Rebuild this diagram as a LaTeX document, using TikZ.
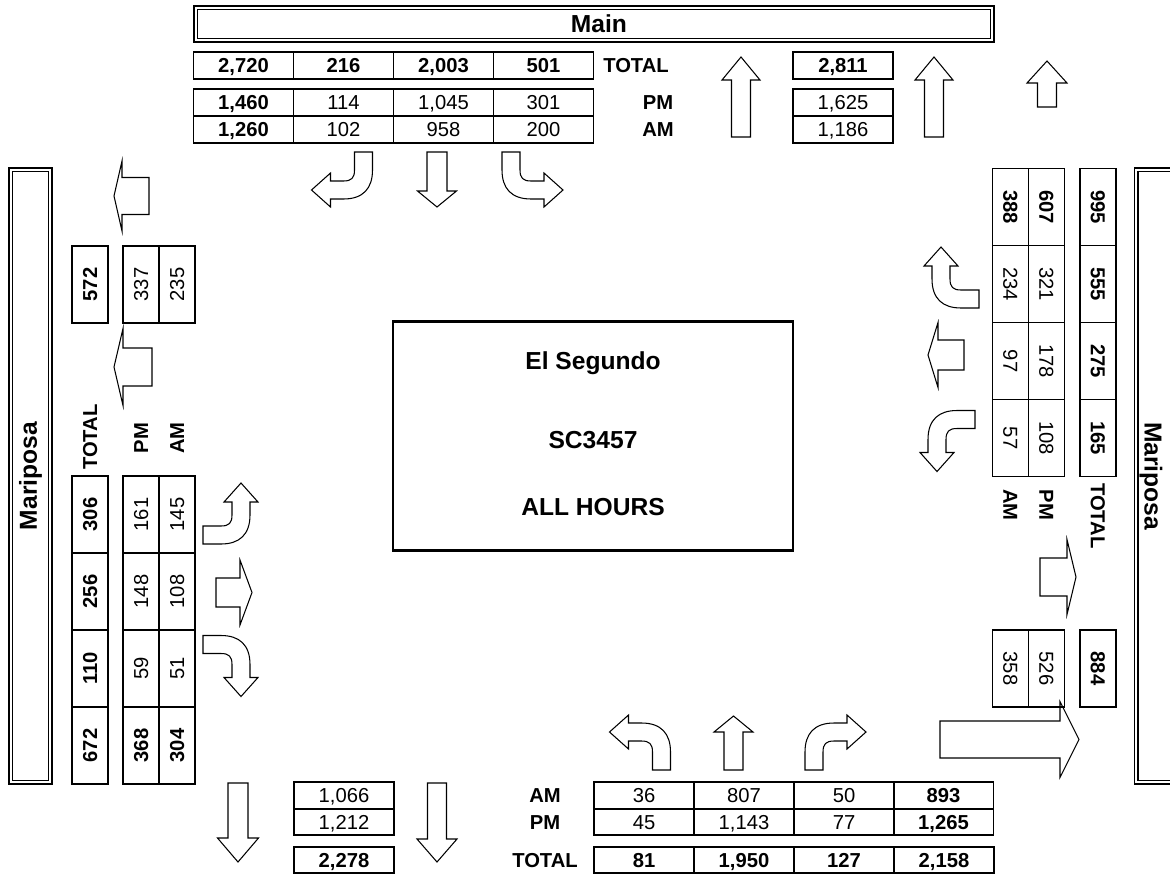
\documentclass[tikz,border=0pt]{standalone}
\usepackage{fontspec}
\setmainfont{Liberation Sans}
\usetikzlibrary{positioning}

\newcommand{\cellfont}{\fontsize{11.5}{13}\selectfont}
\newcommand{\roadfont}{\fontsize{14}{16}\selectfont\bfseries}
\newcommand{\boxfont}{\fontsize{14}{16}\selectfont\bfseries}

% turning arrow, drawn pointing up and turning left
\newcommand{\turnarrow}[1]{\draw[arrowline,#1] (-9,0) -- (9,0) -- (9,-18)
  .. controls (9,-36) and (0,-47) .. (-20,-47) -- (-33,-47) -- (-33,-55)
  -- (-52,-38) -- (-33,-21) -- (-33,-29) -- (-20,-29)
  .. controls (-12,-29) and (-9,-26) .. (-9,-18) -- cycle;}
% straight arrow: shaft length, shaft half width, head length, head half width
\newcommand{\blockarrow}[5]{\draw[arrowline,#1] (-#3,0) -- (#3,0) -- (#3,-#2)
  -- (#5,-#2) -- (0,-#2-#4) -- (-#5,-#2) -- (-#3,-#2) -- cycle;}

\begin{document}
\begin{tikzpicture}[
  x=0.02cm, y=-0.02cm,
  road/.style={
    draw, double, double distance=1.4pt, line width=0.7pt,
    inner sep=0pt, font=\roadfont
  },
  hcell/.style={
    draw, line width=1pt, minimum width=2cm, minimum height=0.53cm,
    inner sep=0pt, text height=8.2pt, text depth=0pt, font=\cellfont
  },
  vcell/.style={
    draw, line width=1pt, minimum width=1.54cm, minimum height=0.72cm,
    inner sep=0pt, text height=8.2pt, text depth=0pt, font=\cellfont
  },
  hot/.style={font=\cellfont\bfseries},
  lbl/.style={font=\cellfont\bfseries, inner sep=0pt, text height=8.2pt, text depth=0pt},
  arrowline/.style={draw, line width=0.6pt, fill=white}
]
\useasboundingbox (0,0) rectangle (1170,876);

% Streets
\node[road, minimum width=15.93cm, minimum height=0.65cm] (main) at (594,24) {};
\node[font=\roadfont] (mainlbl) at (599,24) {Main};
\node[road, rotate=90, minimum width=12.25cm, minimum height=0.79cm] (west) at (30.5,476) {Mariposa};
\node[road, rotate=-90, minimum width=12.25cm, minimum height=0.79cm] (east) at (1156,476) {};
\node[font=\roadfont, rotate=-90] (eastlbl) at (1151,476) {Mariposa};

% Intersection
\node[draw, line width=1.6pt, minimum width=8cm, minimum height=4.58cm] (isect) at (593,436) {};
\node[font=\boxfont] (city) at (593,363) {El Segundo};
\node[font=\boxfont] (site) at (593,440) {SC3457};
\node[font=\boxfont] (hours) at (593,507) {ALL HOURS};

% Approach arrows
\turnarrow{shift={(363.5,152)}, rotate=180, xscale=-1}
\blockarrow{shift={(437,152)}, rotate=180}{39}{10}{16}{19.5}
\turnarrow{shift={(511,152)}, rotate=180}
\turnarrow{shift={(661.5,770)}}
\blockarrow{shift={(733.5,770)}}{38}{9.5}{16}{19.5}
\turnarrow{shift={(814,770)}, xscale=-1}
\turnarrow{shift={(203,535)}, rotate=-90}
\blockarrow{shift={(216,592.5)}, rotate=-90}{24}{14.5}{12}{32.5}
\turnarrow{shift={(203,644.5)}, rotate=-90, xscale=-1}
\turnarrow{shift={(979,299)}, rotate=90, xscale=-1}
\blockarrow{shift={(964,355)}, rotate=90}{26}{15}{10}{32.5}
\turnarrow{shift={(975,419.5)}, rotate=90}

% Departure arrows
\blockarrow{shift={(741,137)}}{57}{9.5}{23}{19}
\blockarrow{shift={(934,137)}}{57}{9.5}{23}{19}
\blockarrow{shift={(1047,107)}}{24}{9.5}{22}{20}
\blockarrow{shift={(238,783)}, rotate=180}{55}{10}{24}{20.5}
\blockarrow{shift={(437,783)}, rotate=180}{56}{9.5}{23}{20}
\blockarrow{shift={(149,196)}, rotate=90}{27}{18.5}{8}{35}
\blockarrow{shift={(152,367)}, rotate=90}{29}{19}{9}{38.5}
\blockarrow{shift={(1040,577)}, rotate=-90}{27}{19}{9}{37.5}
\blockarrow{shift={(940,739.5)}, rotate=-90}{120}{18.5}{19}{38}

% North leg
\node[hcell, hot] (ntot0) at (243.5,65.5) {2,720};
\foreach \v [count=\i] in {216,{2,003},501}
  \node[hcell, hot] (ntot\i) at (243.5+\i*100,65.5) {\v};
\node[hcell, hot] (npm0) at (243.5,102.5) {1,460};
\foreach \v [count=\i] in {114,{1,045},301}
  \node[hcell] (npm\i) at (243.5+\i*100,102.5) {\v};
\node[hcell, hot] (nam0) at (243.5,129.5) {1,260};
\foreach \v [count=\i] in {102,958,200}
  \node[hcell] (nam\i) at (243.5+\i*100,129.5) {\v};
\node[hcell, hot] (nout) at (843,65.5) {2,811};
\node[hcell] (noutpm) at (843,102.5) {1,625};
\node[hcell] (noutam) at (843,129.5) {1,186};
\node[lbl] (ntotlbl) at (636,65.5) {TOTAL};
\node[lbl] (npmlbl) at (658,102.5) {PM};
\node[lbl] (namlbl) at (658,129.5) {AM};

% West leg
\node[vcell, hot, rotate=90] (wout) at (90,284.5) {572};
\node[vcell, rotate=90] (woutpm) at (141,284.5) {337};
\node[vcell, rotate=90] (woutam) at (177,284.5) {235};
\foreach \v [count=\i] in {306,256,110,672}
  \node[vcell, hot, rotate=90] (wtot\i) at (90,437.5+\i*77) {\v};
\foreach \v [count=\i] in {161,148,59}
  \node[vcell, rotate=90] (wpm\i) at (141,437.5+\i*77) {\v};
\foreach \v [count=\i] in {145,108,51}
  \node[vcell, rotate=90] (wam\i) at (177,437.5+\i*77) {\v};
\node[vcell, hot, rotate=90] (wpm4) at (141,745.5) {368};
\node[vcell, hot, rotate=90] (wam4) at (177,745.5) {304};
\node[lbl, rotate=90] (wtotlbl) at (90,437) {TOTAL};
\node[lbl, rotate=90] (wpmlbl) at (141,438) {PM};
\node[lbl, rotate=90] (wamlbl) at (177,438) {AM};

% East leg
\node[vcell, hot, rotate=-90] (eam0) at (1010.5,207) {388};
\node[vcell, hot, rotate=-90] (epm0) at (1046.5,207) {607};
\foreach \v [count=\i] in {234,97,57}
  \node[vcell, rotate=-90] (eam\i) at (1010.5,207+\i*77) {\v};
\foreach \v [count=\i] in {321,178,108}
  \node[vcell, rotate=-90] (epm\i) at (1046.5,207+\i*77) {\v};
\foreach \v [count=\i] in {995,555,275,165}
  \node[vcell, hot, rotate=-90] (etot\i) at (1098,130+\i*77) {\v};
\node[vcell, rotate=-90] (eoutam) at (1010.5,668.5) {358};
\node[vcell, rotate=-90] (eoutpm) at (1046.5,668.5) {526};
\node[vcell, hot, rotate=-90] (eout) at (1098,668.5) {884};
\node[lbl, rotate=-90] (eamlbl) at (1010.5,505) {AM};
\node[lbl, rotate=-90] (epmlbl) at (1046.5,505) {PM};
\node[lbl, rotate=-90] (etotlbl) at (1098,516) {TOTAL};

% South leg
\foreach \v [count=\i] in {36,807,50}
  \node[hcell] (sam\i) at (544+\i*100,795.5) {\v};
\node[hcell, hot] (sam4) at (943.5,795.5) {893};
\foreach \v [count=\i] in {45,{1,143},77}
  \node[hcell] (spm\i) at (544+\i*100,822) {\v};
\node[hcell, hot] (spm4) at (943.5,822) {1,265};
\foreach \v [count=\i] in {81,{1,950},127,{2,158}}
  \node[hcell, hot] (stot\i) at (544+\i*100,860) {\v};
\node[hcell] (soutam) at (344,795.5) {1,066};
\node[hcell] (soutpm) at (344,822) {1,212};
\node[hcell, hot] (sout) at (344,860) {2,278};
\node[lbl] (samlbl) at (545,795.5) {AM};
\node[lbl] (spmlbl) at (545,822) {PM};
\node[lbl] (stotlbl) at (545,860) {TOTAL};

\end{tikzpicture}
\end{document}
